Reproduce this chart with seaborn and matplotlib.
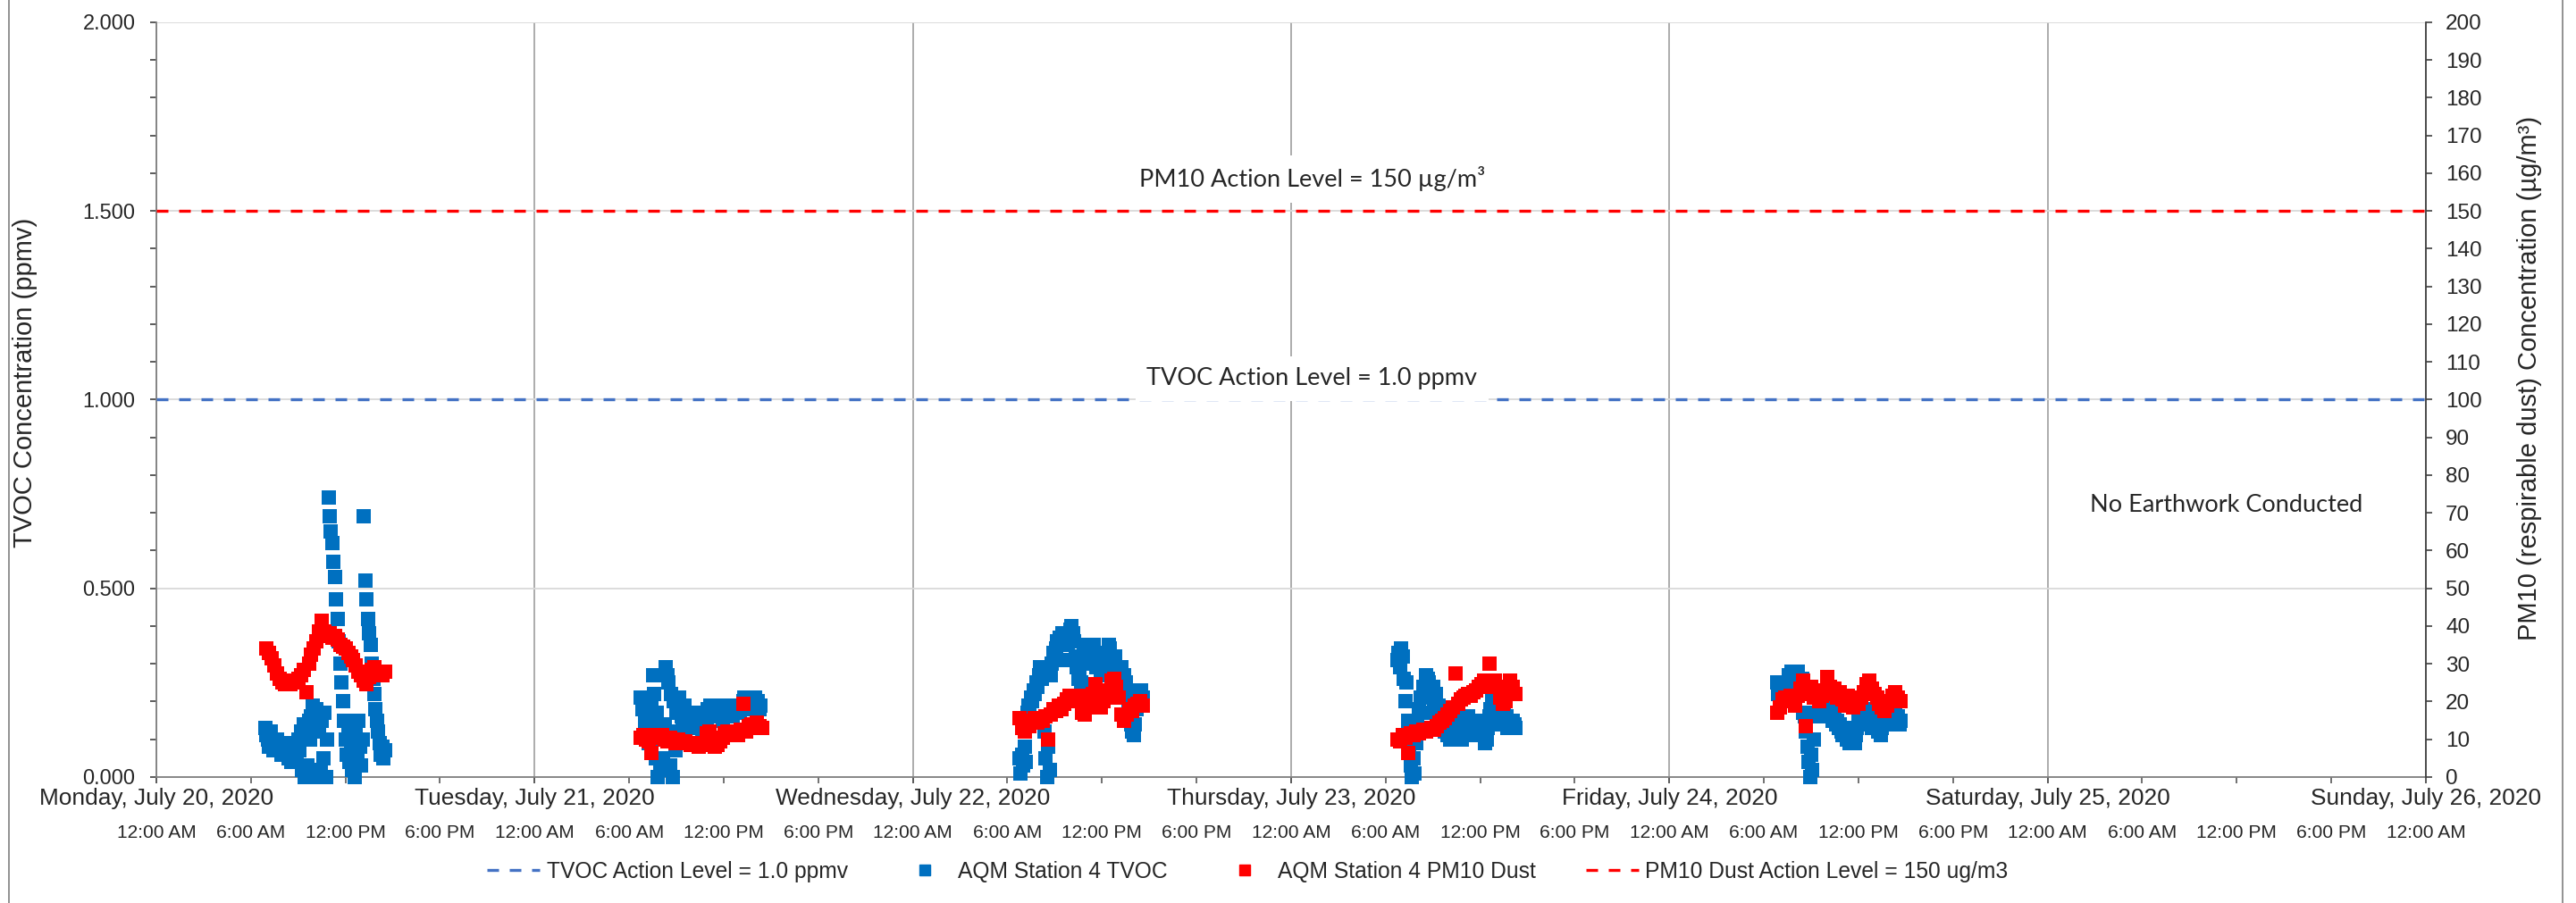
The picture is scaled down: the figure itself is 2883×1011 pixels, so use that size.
import pandas as pd
import seaborn as sns
import matplotlib
matplotlib.use("Agg")
from matplotlib import pyplot as plt
import matplotlib.dates as mdates
from matplotlib import font_manager
from matplotlib.lines import Line2D
from matplotlib.patches import Rectangle
from matplotlib.ticker import MultipleLocator, FuncFormatter, FormatStrFormatter

# AQM Station 4 TVOC (ppmv), 5 minute readings, one block per working day
tvoc_starts = ["2020-07-20 06:55", "2020-07-21 06:45", "2020-07-22 06:45",
               "2020-07-23 06:45", "2020-07-24 06:50"]
tvoc_mon = [0.13, 0.11, 0.10, 0.08, 0.12, 0.09, 0.07, 0.09, 0.08, 0.10, 0.07, 0.09, 0.06, 0.08,
            0.07, 0.09, 0.06, 0.08, 0.05, 0.07, 0.04, 0.08, 0.06, 0.09, 0.05, 0.10, 0.07,
            0.12, 0.02, 0.14, 0.00, 0.11, 0.03, 0.15, 0.10,
            0.16, 0.19, 0.17, 0.12, 0.18, 0.00, 0.13, 0.02, 0.15, 0.05, 0.17, 0.00, 0.10,
            0.74, 0.69, 0.65, 0.62, 0.57, 0.53, 0.47, 0.42, 0.36, 0.30, 0.25, 0.20,
            0.15, 0.10, 0.06, 0.12, 0.04, 0.09, 0.02, 0.07, 0.00, 0.12, 0.05, 0.15, 0.08, 0.03, 0.10,
            0.69, 0.52, 0.47, 0.42, 0.38, 0.35, 0.30, 0.26, 0.22,
            0.18, 0.15, 0.12, 0.09, 0.06, 0.08, 0.05, 0.07]
tvoc_tue = [0.21, 0.18, 0.20, 0.15, 0.12, 0.17, 0.09, 0.14, 0.20, 0.27, 0.22, 0.05, 0.17, 0.00,
            0.13, 0.02, 0.10, 0.05, 0.14,
            0.29, 0.27, 0.25, 0.03, 0.22, 0.00, 0.20, 0.07, 0.17, 0.12,
            0.21, 0.18, 0.16, 0.14, 0.19, 0.13, 0.16, 0.15, 0.13, 0.16, 0.14, 0.17, 0.13, 0.15,
            0.14, 0.17, 0.13, 0.15, 0.12, 0.16,
            0.17, 0.15, 0.18, 0.16, 0.19, 0.17, 0.16, 0.18, 0.17, 0.19, 0.16, 0.18, 0.17, 0.15,
            0.18, 0.19, 0.17, 0.16, 0.18, 0.19, 0.17, 0.16, 0.18, 0.17, 0.19, 0.18, 0.17, 0.19,
            0.18, 0.20,
            0.21, 0.19, 0.20, 0.18, 0.21, 0.19, 0.20, 0.18, 0.21, 0.19, 0.20, 0.18, 0.19]
tvoc_wed = [0.05, 0.01, 0.06, 0.03, 0.08, 0.04,
            0.17, 0.19, 0.18, 0.21, 0.20, 0.23, 0.22, 0.25, 0.24, 0.27, 0.29, 0.26, 0.28,
            0.12, 0.05, 0.00, 0.08, 0.02,
            0.27, 0.30, 0.33, 0.31, 0.34, 0.36, 0.35, 0.37, 0.36, 0.38, 0.37, 0.36, 0.31, 0.35,
            0.38, 0.39, 0.40, 0.38, 0.36,
            0.32, 0.29, 0.26, 0.28, 0.25, 0.30,
            0.34, 0.35, 0.33, 0.35, 0.32, 0.34, 0.30, 0.33, 0.35, 0.31, 0.29, 0.33, 0.30, 0.28,
            0.31, 0.27, 0.29, 0.30,
            0.33, 0.35, 0.34, 0.31, 0.28, 0.30, 0.32, 0.29, 0.27, 0.28, 0.25, 0.29, 0.24,
            0.27, 0.25, 0.23,
            0.20, 0.17, 0.14, 0.12, 0.11, 0.14, 0.18, 0.21, 0.22, 0.20, 0.23, 0.21]
tvoc_thu = [0.31, 0.33, 0.29, 0.34, 0.32, 0.26, 0.20, 0.25, 0.15, 0.08,
            0.03, 0.00, 0.05, 0.01, 0.09, 0.14, 0.18, 0.12, 0.21, 0.17,
            0.24, 0.22, 0.27, 0.26, 0.25, 0.23, 0.21, 0.24, 0.19, 0.22,
            0.17, 0.19, 0.15, 0.16, 0.13, 0.15, 0.12, 0.14, 0.11, 0.13,
            0.10, 0.12, 0.14, 0.11, 0.13, 0.15, 0.16, 0.12, 0.14, 0.10,
            0.13, 0.15, 0.12, 0.14, 0.16, 0.13, 0.11, 0.14, 0.12, 0.15,
            0.13, 0.11, 0.14, 0.12, 0.15, 0.13, 0.11, 0.09, 0.10, 0.13,
            0.16, 0.18, 0.20, 0.17, 0.19, 0.16, 0.14, 0.17, 0.19, 0.18,
            0.20, 0.17, 0.14, 0.16, 0.13, 0.15, 0.14, 0.13, 0.15, 0.14,
            0.13]
tvoc_fri = [0.25, 0.22, 0.24, 0.20, 0.23, 0.21, 0.24, 0.22, 0.25, 0.27,
            0.26, 0.28, 0.27, 0.25, 0.27, 0.26, 0.28, 0.26, 0.24, 0.26,
            0.17, 0.16, 0.12, 0.08, 0.04, 0.00, 0.06, 0.02, 0.10, 0.16,
            0.17, 0.16, 0.18, 0.17, 0.20, 0.19, 0.18, 0.20, 0.17, 0.19,
            0.16, 0.18, 0.15, 0.17, 0.16, 0.14, 0.15, 0.13, 0.14, 0.12,
            0.11, 0.13, 0.12, 0.10, 0.12, 0.09, 0.11, 0.10, 0.12, 0.09,
            0.11, 0.13, 0.15, 0.14, 0.16, 0.17, 0.15, 0.18, 0.16, 0.14,
            0.17, 0.15, 0.13, 0.16, 0.14, 0.13, 0.15, 0.12, 0.14, 0.11,
            0.13, 0.15, 0.17, 0.15, 0.16, 0.14, 0.15, 0.16, 0.14, 0.15,
            0.17, 0.15, 0.16, 0.14, 0.15]

# AQM Station 4 PM10 dust (ug/m3), 10 minute readings
pm_starts = ["2020-07-20 07:00", "2020-07-21 06:45", "2020-07-22 06:45",
             "2020-07-23 06:45", "2020-07-24 06:50"]
pm_mon = [34.0, 33.0, 31.5, 29.5, 27.5, 26.0, 25.0, 24.5, 25.5, 24.5, 25.0, 25.5, 26.0, 27.0,
          28.5, 22.5, 30.0, 32.5, 34.0, 36.0, 38.5, 41.5, 38.5, 37.5, 38.0, 37.0, 37.5, 36.5,
          35.0, 34.5, 34.0, 33.0, 32.0, 31.0, 29.5, 28.0, 27.0, 25.5, 24.5, 26.5, 28.5, 29.0,
          27.5, 28.0, 27.0, 28.0]
pm_tue = [10.5, 11.0, 10.0, 9.5, 6.5, 10.5, 11.0, 10.5, 11.0, 10.0, 9.5, 10.5, 9.5, 9.0,
          10.0, 9.5, 9.0, 9.5, 9.0, 8.5, 9.0, 8.5, 8.0, 8.5, 9.0, 11.5, 12.0, 9.0, 8.0, 8.5,
          9.5, 10.5, 11.5, 12.0, 11.0, 11.5, 12.0, 11.0, 12.5, 19.5, 12.0, 13.5, 14.0, 13.0,
          14.5, 13.5, 13.0]
pm_wed = [15.5, 13.0, 12.0, 14.0, 13.5, 15.0, 15.5, 14.5, 15.5, 15.0, 16.0, 10.0, 16.5, 18.0,
          17.5, 19.0, 18.0, 19.5, 20.5, 21.5, 20.0, 21.0, 20.5, 21.5, 17.0, 16.5, 18.5, 20.0,
          22.0, 24.5, 21.0, 18.5, 20.0, 21.0, 23.0, 25.5, 26.0, 24.0, 21.0, 16.5, 15.0, 16.5,
          18.0, 17.5, 19.0, 19.5, 20.0, 19.0]
pm_thu = [10.0, 9.5, 11.0, 10.5, 6.5, 11.5, 11.0, 12.0, 11.5, 12.0, 12.5, 12.0, 12.5, 13.0,
          12.5, 13.5, 14.5, 15.0, 15.5, 16.5, 17.5, 18.5, 27.5, 19.5, 20.5, 21.0, 21.5, 22.0,
          21.5, 22.5, 23.0, 24.0, 24.5, 25.5, 25.0, 30.0, 24.0, 25.5, 24.0, 21.0, 19.5, 20.0,
          22.5, 25.5, 24.0, 22.0]
pm_fri = [17.0, 18.5, 20.5, 21.0, 20.0, 21.5, 20.5, 19.0, 21.5, 23.5, 25.5, 13.5, 22.0, 24.0,
          21.0, 22.5, 20.0, 21.5, 23.0, 26.5, 24.0, 22.0, 23.5, 21.0, 22.5, 20.5, 19.0, 21.5,
          20.0, 18.5, 20.5, 19.5, 21.0, 22.5, 24.5, 25.5, 23.5, 22.0, 21.0, 19.5, 18.5, 17.5,
          19.0, 20.0, 21.5, 22.5, 21.0, 20.0]

tvoc_action = 1.0
pm_action = 150

labels = ["TVOC Action Level = 1.0 ppmv", "AQM Station 4 TVOC",
          "AQM Station 4 PM10 Dust", "PM10 Dust Action Level = 150 ug/m3"]

tvoc_df = pd.concat([pd.DataFrame({"time": pd.date_range(s, periods=len(v), freq="5min"), "tvoc": v})
                     for s, v in zip(tvoc_starts, [tvoc_mon, tvoc_tue, tvoc_wed, tvoc_thu, tvoc_fri])])
pm_df = pd.concat([pd.DataFrame({"time": pd.date_range(s, periods=len(v), freq="10min"), "pm10": v})
                   for s, v in zip(pm_starts, [pm_mon, pm_tue, pm_wed, pm_thu, pm_fri])])

sns.set_style("ticks")
plt.rcParams["font.family"] = ["Liberation Sans", "DejaVu Sans"]

names = {f.name for f in font_manager.fontManager.ttflist}
if "Liberation Sans Narrow" in names:
    narrow, k = "Liberation Sans Narrow", 1.0
else:
    narrow, k = "Liberation Sans", 0.82

BLUE, RED, BLUE_LINE = "#0070C0", "#FF0000", "#4472C4"
DASH = (0, (3.9, 3.6))

fig = plt.figure(figsize=(28.83, 10.11), dpi=100)
ax = fig.add_axes([0.0607, 0.1395, 0.8810, 0.8358])
ax2 = ax.twinx()

sns.scatterplot(data=tvoc_df, x="time", y="tvoc", ax=ax, marker="s", s=125, color=BLUE,
                linewidth=0, legend=False, zorder=3, clip_on=False)
sns.scatterplot(data=pm_df, x="time", y="pm10", ax=ax2, marker="s", s=125, color=RED,
                linewidth=0, legend=False, zorder=3, clip_on=False)

ax.axhline(tvoc_action, color=BLUE_LINE, lw=2.4, ls=DASH, zorder=4)
ax2.axhline(pm_action, color=RED, lw=2.4, ls=DASH, zorder=4)

ax.set_xlim(pd.Timestamp("2020-07-20"), pd.Timestamp("2020-07-26"))
ax.set_ylim(0, 2)
ax2.set_ylim(0, 200)

# x axis: days on the first row, 6-hour marks on the second
ax.xaxis.remove_overlapping_locs = False
ax.xaxis.set_major_locator(mdates.DayLocator())
ax.xaxis.set_major_formatter(mdates.DateFormatter("%A, %B %d, %Y"))
ax.xaxis.set_minor_locator(mdates.HourLocator(byhour=[0, 6, 12, 18]))


def hour_label(x, pos):
    h = mdates.num2date(x).hour
    return f"{h % 12 or 12}:00 {'AM' if h < 12 else 'PM'}"


ax.xaxis.set_minor_formatter(FuncFormatter(hour_label))
ax.tick_params(axis="x", which="major", direction="out", length=5, width=1.2, color="#595959",
               pad=4, labelsize=23 * k, labelfontfamily=narrow)
ax.tick_params(axis="x", which="minor", direction="out", length=5, width=1.2, color="#595959",
               pad=33, labelsize=18.4 * k, labelfontfamily=narrow)

ax.yaxis.set_major_locator(MultipleLocator(0.5))
ax.yaxis.set_minor_locator(MultipleLocator(0.1))
ax.yaxis.set_major_formatter(FormatStrFormatter("%.3f"))
ax.tick_params(axis="y", which="both", direction="out", length=5, width=1.2, color="#404040",
               pad=12, labelsize=17)
ax2.yaxis.set_major_locator(MultipleLocator(10))
ax2.tick_params(axis="y", which="both", direction="out", length=5, width=1.2, color="#404040",
                pad=11, labelsize=17.5)

ax.grid(True, axis="x", which="major", color="#A6A6A6", lw=1.3)
ax.grid(True, axis="y", which="major", color="#D9D9D9", lw=1.3)
ax2.grid(False)
ax.set_xlabel("")
ax.set_ylabel("")
ax2.set_ylabel("")

for s in ["top", "right"]:
    ax.spines[s].set_visible(False)
for s in ["top", "left", "bottom"]:
    ax2.spines[s].set_visible(False)
ax.spines["left"].set_color("#7F7F7F")
ax.spines["bottom"].set_color("#7F7F7F")
ax.spines["left"].set_linewidth(1.3)
ax.spines["bottom"].set_linewidth(1.3)
ax2.spines["right"].set_color("#404040")
ax2.spines["right"].set_linewidth(1.3)

# annotations
box = dict(facecolor="white", edgecolor="none", pad=9)
thu = mdates.date2num(pd.Timestamp("2020-07-23 01:20"))
ax.text(thu, 1.564, "PM10 Action Level = 150 µg/m³", ha="center", va="baseline",
        fontsize=19.5, family=["Lato", "DejaVu Sans"], bbox=box, zorder=5)
ax.text(thu, 1.038, "TVOC Action Level = 1.0 ppmv", ha="center", va="baseline",
        fontsize=19.5, family=["Lato", "DejaVu Sans"], bbox=box, zorder=5)
ax.text(mdates.date2num(pd.Timestamp("2020-07-25 11:20")), 0.704, "No Earthwork Conducted",
        ha="center", va="baseline", fontsize=19.5, family=["Lato", "DejaVu Sans"], zorder=5)

fig.text(28 / 2883, 0.576, "TVOC Concentration (ppmv)", rotation=90, ha="center", va="center",
         fontsize=21)
fig.text(2831 / 2883, 0.5816, "PM10 (respirable dust) Concentration (µg/m³)", rotation=90,
         ha="center", va="center", fontsize=21)

handles = [Line2D([], [], color=BLUE_LINE, lw=2.4, ls=DASH),
           Line2D([], [], color=BLUE, marker="s", ls="none", markersize=8),
           Line2D([], [], color=RED, marker="s", ls="none", markersize=8),
           Line2D([], [], color=RED, lw=2.4, ls=DASH)]
fig.legend(handles, labels, loc="center", bbox_to_anchor=(0.4844, 0.0346), ncol=4,
           frameon=False, prop={"family": narrow, "size": 21.6 * k}, handlelength=2.4,
           handletextpad=0.3, columnspacing=2.3)

fig.add_artist(Rectangle((10 / 2883, -0.01), 2858 / 2883, 1.02, transform=fig.transFigure,
                         fill=False, edgecolor="#7F7F7F", lw=1.2))

fig.savefig("out.png", dpi=100)
